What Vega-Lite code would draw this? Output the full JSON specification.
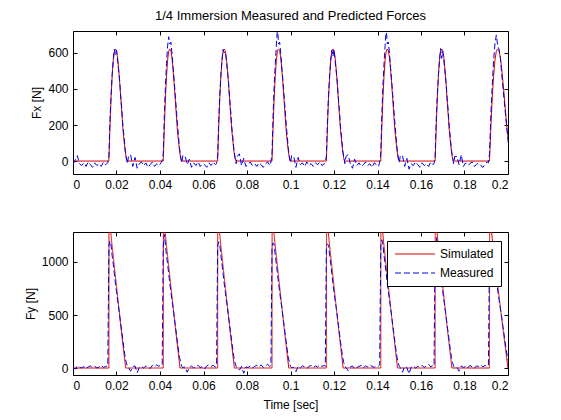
{
  "$schema": "https://vega.github.io/schema/vega-lite/v6.json",
  "background": "white",
  "padding": {"left": 23, "top": 9, "right": 5, "bottom": 2},
  "spacing": 40,
  "config": {
    "font": "Liberation Sans",
    "view": {"stroke": "black", "strokeWidth": 1},
    "axis": {
      "grid": false, "domain": false,
      "tickColor": "black", "tickSize": -4, "tickWidth": 1,
      "labelColor": "black", "labelFontSize": 12, "labelPadding": 9,
      "titleColor": "black", "titleFontSize": 12, "titleFontWeight": "normal"
    },
    "title": {"fontSize": 13, "fontWeight": "normal", "color": "black", "offset": 8}
  },
  "resolve": {"scale": {"color": "independent", "strokeDash": "independent"}},
  "datasets": {
    "simx": [
      {"t": 0, "fx": 0},
      {"t": 0.0165, "fx": 0}, {"t": 0.017, "fx": 190}, {"t": 0.0175, "fx": 350}, {"t": 0.018, "fx": 470}, {"t": 0.0185, "fx": 560}, {"t": 0.019, "fx": 610}, {"t": 0.0195, "fx": 622}, {"t": 0.02, "fx": 612}, {"t": 0.0205, "fx": 575}, {"t": 0.021, "fx": 510}, {"t": 0.0215, "fx": 430}, {"t": 0.022, "fx": 345}, {"t": 0.0225, "fx": 255}, {"t": 0.023, "fx": 170}, {"t": 0.0235, "fx": 110}, {"t": 0.024, "fx": 55}, {"t": 0.0245, "fx": 15}, {"t": 0.0249, "fx": 0},
      {"t": 0.0415, "fx": 0}, {"t": 0.042, "fx": 190}, {"t": 0.0425, "fx": 350}, {"t": 0.043, "fx": 470}, {"t": 0.0435, "fx": 560}, {"t": 0.044, "fx": 610}, {"t": 0.0445, "fx": 622}, {"t": 0.045, "fx": 612}, {"t": 0.0455, "fx": 575}, {"t": 0.046, "fx": 510}, {"t": 0.0465, "fx": 430}, {"t": 0.047, "fx": 345}, {"t": 0.0475, "fx": 255}, {"t": 0.048, "fx": 170}, {"t": 0.0485, "fx": 110}, {"t": 0.049, "fx": 55}, {"t": 0.0495, "fx": 15}, {"t": 0.0499, "fx": 0},
      {"t": 0.0665, "fx": 0}, {"t": 0.067, "fx": 190}, {"t": 0.0675, "fx": 350}, {"t": 0.068, "fx": 470}, {"t": 0.0685, "fx": 560}, {"t": 0.069, "fx": 610}, {"t": 0.0695, "fx": 622}, {"t": 0.07, "fx": 612}, {"t": 0.0705, "fx": 575}, {"t": 0.071, "fx": 510}, {"t": 0.0715, "fx": 430}, {"t": 0.072, "fx": 345}, {"t": 0.0725, "fx": 255}, {"t": 0.073, "fx": 170}, {"t": 0.0735, "fx": 110}, {"t": 0.074, "fx": 55}, {"t": 0.0745, "fx": 15}, {"t": 0.0749, "fx": 0},
      {"t": 0.0915, "fx": 0}, {"t": 0.092, "fx": 190}, {"t": 0.0925, "fx": 350}, {"t": 0.093, "fx": 470}, {"t": 0.0935, "fx": 560}, {"t": 0.094, "fx": 610}, {"t": 0.0945, "fx": 622}, {"t": 0.095, "fx": 612}, {"t": 0.0955, "fx": 575}, {"t": 0.096, "fx": 510}, {"t": 0.0965, "fx": 430}, {"t": 0.097, "fx": 345}, {"t": 0.0975, "fx": 255}, {"t": 0.098, "fx": 170}, {"t": 0.0985, "fx": 110}, {"t": 0.099, "fx": 55}, {"t": 0.0995, "fx": 15}, {"t": 0.0999, "fx": 0},
      {"t": 0.1165, "fx": 0}, {"t": 0.117, "fx": 190}, {"t": 0.1175, "fx": 350}, {"t": 0.118, "fx": 470}, {"t": 0.1185, "fx": 560}, {"t": 0.119, "fx": 610}, {"t": 0.1195, "fx": 622}, {"t": 0.12, "fx": 612}, {"t": 0.1205, "fx": 575}, {"t": 0.121, "fx": 510}, {"t": 0.1215, "fx": 430}, {"t": 0.122, "fx": 345}, {"t": 0.1225, "fx": 255}, {"t": 0.123, "fx": 170}, {"t": 0.1235, "fx": 110}, {"t": 0.124, "fx": 55}, {"t": 0.1245, "fx": 15}, {"t": 0.1249, "fx": 0},
      {"t": 0.1415, "fx": 0}, {"t": 0.142, "fx": 190}, {"t": 0.1425, "fx": 350}, {"t": 0.143, "fx": 470}, {"t": 0.1435, "fx": 560}, {"t": 0.144, "fx": 610}, {"t": 0.1445, "fx": 622}, {"t": 0.145, "fx": 612}, {"t": 0.1455, "fx": 575}, {"t": 0.146, "fx": 510}, {"t": 0.1465, "fx": 430}, {"t": 0.147, "fx": 345}, {"t": 0.1475, "fx": 255}, {"t": 0.148, "fx": 170}, {"t": 0.1485, "fx": 110}, {"t": 0.149, "fx": 55}, {"t": 0.1495, "fx": 15}, {"t": 0.1499, "fx": 0},
      {"t": 0.1665, "fx": 0}, {"t": 0.167, "fx": 190}, {"t": 0.1675, "fx": 350}, {"t": 0.168, "fx": 470}, {"t": 0.1685, "fx": 560}, {"t": 0.169, "fx": 610}, {"t": 0.1695, "fx": 622}, {"t": 0.17, "fx": 612}, {"t": 0.1705, "fx": 575}, {"t": 0.171, "fx": 510}, {"t": 0.1715, "fx": 430}, {"t": 0.172, "fx": 345}, {"t": 0.1725, "fx": 255}, {"t": 0.173, "fx": 170}, {"t": 0.1735, "fx": 110}, {"t": 0.174, "fx": 55}, {"t": 0.1745, "fx": 15}, {"t": 0.1749, "fx": 0},
      {"t": 0.1915, "fx": 0}, {"t": 0.19213, "fx": 190}, {"t": 0.19275, "fx": 350}, {"t": 0.19338, "fx": 470}, {"t": 0.194, "fx": 560}, {"t": 0.19463, "fx": 610}, {"t": 0.19525, "fx": 622}, {"t": 0.19588, "fx": 612}, {"t": 0.1965, "fx": 575}, {"t": 0.19713, "fx": 510}, {"t": 0.19775, "fx": 430}, {"t": 0.19838, "fx": 345}, {"t": 0.199, "fx": 255}, {"t": 0.19963, "fx": 170}, {"t": 0.20025, "fx": 110}
    ],
    "simy": [
      {"t": 0, "fy": 0},
      {"t": 0.0165, "fy": 0}, {"t": 0.01655, "fy": 1450}, {"t": 0.018, "fy": 1150}, {"t": 0.02, "fy": 770}, {"t": 0.022, "fy": 390}, {"t": 0.0242, "fy": 0},
      {"t": 0.0415, "fy": 0}, {"t": 0.04155, "fy": 1450}, {"t": 0.043, "fy": 1150}, {"t": 0.045, "fy": 770}, {"t": 0.047, "fy": 390}, {"t": 0.0492, "fy": 0},
      {"t": 0.0665, "fy": 0}, {"t": 0.06655, "fy": 1450}, {"t": 0.068, "fy": 1150}, {"t": 0.07, "fy": 770}, {"t": 0.072, "fy": 390}, {"t": 0.0742, "fy": 0},
      {"t": 0.0915, "fy": 0}, {"t": 0.09155, "fy": 1450}, {"t": 0.093, "fy": 1150}, {"t": 0.095, "fy": 770}, {"t": 0.097, "fy": 390}, {"t": 0.0992, "fy": 0},
      {"t": 0.1165, "fy": 0}, {"t": 0.11655, "fy": 1450}, {"t": 0.118, "fy": 1150}, {"t": 0.12, "fy": 770}, {"t": 0.122, "fy": 390}, {"t": 0.1242, "fy": 0},
      {"t": 0.1415, "fy": 0}, {"t": 0.14155, "fy": 1450}, {"t": 0.143, "fy": 1150}, {"t": 0.145, "fy": 770}, {"t": 0.147, "fy": 390}, {"t": 0.1492, "fy": 0},
      {"t": 0.1665, "fy": 0}, {"t": 0.16655, "fy": 1450}, {"t": 0.168, "fy": 1150}, {"t": 0.17, "fy": 770}, {"t": 0.172, "fy": 390}, {"t": 0.1742, "fy": 0},
      {"t": 0.1915, "fy": 0}, {"t": 0.19156, "fy": 1450}, {"t": 0.19315, "fy": 1150}, {"t": 0.19535, "fy": 770}, {"t": 0.19755, "fy": 390}, {"t": 0.19997, "fy": 0},
      {"t": 0.2, "fy": 0}
    ],
    "meas": [
      {"t": 0.000, "fx": -20, "fy": 5}, {"t": 0.001, "fx": 5, "fy": -10}, {"t": 0.002, "fx": 30, "fy": 20}, {"t": 0.003, "fx": -15, "fy": 10}, {"t": 0.004, "fx": -25, "fy": 0}, {"t": 0.005, "fx": -10, "fy": 15}, {"t": 0.006, "fx": -30, "fy": -5}, {"t": 0.007, "fx": -5, "fy": 10}, {"t": 0.008, "fx": -20, "fy": 20}, {"t": 0.009, "fx": -35, "fy": 5}, {"t": 0.010, "fx": -10, "fy": 15}, {"t": 0.011, "fx": -25, "fy": 0}, {"t": 0.012, "fx": -15, "fy": 10}, {"t": 0.013, "fx": -30, "fy": 25}, {"t": 0.014, "fx": -5, "fy": 5}, {"t": 0.015, "fx": -20, "fy": 15}, {"t": 0.016, "fx": -10, "fy": 20},
      {"t": 0.0165, "fx": 30, "fy": 1150}, {"t": 0.017, "fx": 230, "fy": 1200}, {"t": 0.0175, "fx": 370, "fy": 1160}, {"t": 0.018, "fx": 480, "fy": 1060}, {"t": 0.0185, "fx": 560, "fy": 980}, {"t": 0.019, "fx": 620, "fy": 890}, {"t": 0.0195, "fx": 590, "fy": 800}, {"t": 0.02, "fx": 615, "fy": 720}, {"t": 0.0205, "fx": 560, "fy": 640}, {"t": 0.021, "fx": 500, "fy": 570}, {"t": 0.0215, "fx": 440, "fy": 490}, {"t": 0.022, "fx": 350, "fy": 410}, {"t": 0.0225, "fx": 280, "fy": 330}, {"t": 0.023, "fx": 190, "fy": 250}, {"t": 0.0235, "fx": 130, "fy": 170}, {"t": 0.024, "fx": 60, "fy": 100}, {"t": 0.0245, "fx": 20, "fy": 50}, {"t": 0.025, "fx": -15, "fy": 15}, {"t": 0.0255, "fx": 25, "fy": 5},
      {"t": 0.0265, "fx": 35, "fy": -30}, {"t": 0.0275, "fx": -30, "fy": 10}, {"t": 0.0285, "fx": 20, "fy": 20}, {"t": 0.0295, "fx": -40, "fy": -45}, {"t": 0.0305, "fx": -15, "fy": 5}, {"t": 0.0315, "fx": -5, "fy": 15}, {"t": 0.0325, "fx": -25, "fy": 0}, {"t": 0.0335, "fx": -10, "fy": 20}, {"t": 0.0345, "fx": -35, "fy": 10}, {"t": 0.0355, "fx": -20, "fy": -5}, {"t": 0.0365, "fx": -5, "fy": 25}, {"t": 0.0375, "fx": -30, "fy": 10}, {"t": 0.0385, "fx": -15, "fy": 30}, {"t": 0.0395, "fx": -25, "fy": 15}, {"t": 0.0405, "fx": -10, "fy": 35}, {"t": 0.041, "fx": 5, "fy": 30},
      {"t": 0.0415, "fx": 40, "fy": 1150}, {"t": 0.042, "fx": 260, "fy": 1260}, {"t": 0.0425, "fx": 420, "fy": 1160}, {"t": 0.043, "fx": 540, "fy": 1060}, {"t": 0.0435, "fx": 640, "fy": 980}, {"t": 0.044, "fx": 690, "fy": 890}, {"t": 0.0445, "fx": 650, "fy": 800}, {"t": 0.045, "fx": 660, "fy": 720}, {"t": 0.0455, "fx": 600, "fy": 640}, {"t": 0.046, "fx": 520, "fy": 570}, {"t": 0.0465, "fx": 450, "fy": 490}, {"t": 0.047, "fx": 370, "fy": 410}, {"t": 0.0475, "fx": 290, "fy": 330}, {"t": 0.048, "fx": 210, "fy": 250}, {"t": 0.0485, "fx": 140, "fy": 170}, {"t": 0.049, "fx": 70, "fy": 100}, {"t": 0.0495, "fx": 25, "fy": 50}, {"t": 0.05, "fx": -10, "fy": 15}, {"t": 0.0505, "fx": 30, "fy": 5},
      {"t": 0.0515, "fx": 30, "fy": 10}, {"t": 0.0525, "fx": -20, "fy": -40}, {"t": 0.0535, "fx": 10, "fy": 5}, {"t": 0.0545, "fx": -35, "fy": 20}, {"t": 0.0555, "fx": -10, "fy": 0}, {"t": 0.0565, "fx": -25, "fy": 15}, {"t": 0.0575, "fx": -5, "fy": 25}, {"t": 0.0585, "fx": -30, "fy": 5}, {"t": 0.0595, "fx": -15, "fy": 10}, {"t": 0.0605, "fx": -20, "fy": -10}, {"t": 0.0615, "fx": -35, "fy": 20}, {"t": 0.0625, "fx": -10, "fy": 30}, {"t": 0.0635, "fx": -25, "fy": 15}, {"t": 0.0645, "fx": -5, "fy": 25}, {"t": 0.0655, "fx": -20, "fy": 10}, {"t": 0.066, "fx": -15, "fy": 20},
      {"t": 0.0665, "fx": 30, "fy": 1150}, {"t": 0.067, "fx": 230, "fy": 1190}, {"t": 0.0675, "fx": 370, "fy": 1160}, {"t": 0.068, "fx": 480, "fy": 1060}, {"t": 0.0685, "fx": 560, "fy": 980}, {"t": 0.069, "fx": 620, "fy": 890}, {"t": 0.0695, "fx": 600, "fy": 800}, {"t": 0.07, "fx": 605, "fy": 720}, {"t": 0.0705, "fx": 560, "fy": 640}, {"t": 0.071, "fx": 500, "fy": 570}, {"t": 0.0715, "fx": 440, "fy": 490}, {"t": 0.072, "fx": 350, "fy": 410}, {"t": 0.0725, "fx": 280, "fy": 330}, {"t": 0.073, "fx": 190, "fy": 250}, {"t": 0.0735, "fx": 130, "fy": 170}, {"t": 0.074, "fx": 60, "fy": 100}, {"t": 0.0745, "fx": 20, "fy": 50}, {"t": 0.075, "fx": -15, "fy": 15}, {"t": 0.0755, "fx": 25, "fy": 5},
      {"t": 0.0765, "fx": 40, "fy": -20}, {"t": 0.0775, "fx": -25, "fy": 15}, {"t": 0.0785, "fx": 15, "fy": -50}, {"t": 0.0795, "fx": -30, "fy": 10}, {"t": 0.0805, "fx": -20, "fy": 5}, {"t": 0.0815, "fx": -5, "fy": 20}, {"t": 0.0825, "fx": -25, "fy": 0}, {"t": 0.0835, "fx": -15, "fy": 15}, {"t": 0.0845, "fx": -30, "fy": 25}, {"t": 0.0855, "fx": -10, "fy": 10}, {"t": 0.0865, "fx": -20, "fy": 30}, {"t": 0.0875, "fx": -35, "fy": 5}, {"t": 0.0885, "fx": -15, "fy": 20}, {"t": 0.0895, "fx": -5, "fy": 35}, {"t": 0.0905, "fx": -25, "fy": 15}, {"t": 0.091, "fx": -5, "fy": 25},
      {"t": 0.0915, "fx": 40, "fy": 1150}, {"t": 0.092, "fx": 260, "fy": 1180}, {"t": 0.0925, "fx": 420, "fy": 1160}, {"t": 0.093, "fx": 540, "fy": 1060}, {"t": 0.0935, "fx": 640, "fy": 980}, {"t": 0.094, "fx": 745, "fy": 890}, {"t": 0.0945, "fx": 650, "fy": 800}, {"t": 0.095, "fx": 660, "fy": 720}, {"t": 0.0955, "fx": 600, "fy": 640}, {"t": 0.096, "fx": 520, "fy": 570}, {"t": 0.0965, "fx": 450, "fy": 490}, {"t": 0.097, "fx": 370, "fy": 410}, {"t": 0.0975, "fx": 290, "fy": 330}, {"t": 0.098, "fx": 210, "fy": 250}, {"t": 0.0985, "fx": 140, "fy": 170}, {"t": 0.099, "fx": 70, "fy": 100}, {"t": 0.0995, "fx": 25, "fy": 50}, {"t": 0.1, "fx": -10, "fy": 15}, {"t": 0.1005, "fx": 30, "fy": 5},
      {"t": 0.1015, "fx": 25, "fy": 5}, {"t": 0.1025, "fx": -35, "fy": -35}, {"t": 0.1035, "fx": 20, "fy": 15}, {"t": 0.1045, "fx": -20, "fy": 0}, {"t": 0.1055, "fx": -10, "fy": 20}, {"t": 0.1065, "fx": -30, "fy": 10}, {"t": 0.1075, "fx": -5, "fy": -5}, {"t": 0.1085, "fx": -25, "fy": 15}, {"t": 0.1095, "fx": -15, "fy": 25}, {"t": 0.1105, "fx": -30, "fy": 5}, {"t": 0.1115, "fx": -10, "fy": 20}, {"t": 0.1125, "fx": -20, "fy": 10}, {"t": 0.1135, "fx": -5, "fy": 30}, {"t": 0.1145, "fx": -25, "fy": 15}, {"t": 0.1155, "fx": -15, "fy": 25}, {"t": 0.116, "fx": -10, "fy": 15},
      {"t": 0.1165, "fx": 30, "fy": 1150}, {"t": 0.117, "fx": 230, "fy": 1170}, {"t": 0.1175, "fx": 370, "fy": 1160}, {"t": 0.118, "fx": 480, "fy": 1060}, {"t": 0.1185, "fx": 560, "fy": 980}, {"t": 0.119, "fx": 615, "fy": 890}, {"t": 0.1195, "fx": 580, "fy": 800}, {"t": 0.12, "fx": 620, "fy": 720}, {"t": 0.1205, "fx": 560, "fy": 640}, {"t": 0.121, "fx": 500, "fy": 570}, {"t": 0.1215, "fx": 440, "fy": 490}, {"t": 0.122, "fx": 350, "fy": 410}, {"t": 0.1225, "fx": 280, "fy": 330}, {"t": 0.123, "fx": 190, "fy": 250}, {"t": 0.1235, "fx": 130, "fy": 170}, {"t": 0.124, "fx": 60, "fy": 100}, {"t": 0.1245, "fx": 20, "fy": 50}, {"t": 0.125, "fx": -15, "fy": 15}, {"t": 0.1255, "fx": 25, "fy": 5},
      {"t": 0.1265, "fx": 35, "fy": -25}, {"t": 0.1275, "fx": -15, "fy": 10}, {"t": 0.1285, "fx": -40, "fy": 20}, {"t": 0.1295, "fx": 10, "fy": -10}, {"t": 0.1305, "fx": -25, "fy": 5}, {"t": 0.1315, "fx": -10, "fy": 15}, {"t": 0.1325, "fx": -30, "fy": 25}, {"t": 0.1335, "fx": -20, "fy": 0}, {"t": 0.1345, "fx": -5, "fy": 20}, {"t": 0.1355, "fx": -25, "fy": 10}, {"t": 0.1365, "fx": -15, "fy": 30}, {"t": 0.1375, "fx": -35, "fy": 15}, {"t": 0.1385, "fx": -10, "fy": 5}, {"t": 0.1395, "fx": -20, "fy": 25}, {"t": 0.1405, "fx": -30, "fy": 20}, {"t": 0.141, "fx": -5, "fy": 30},
      {"t": 0.1415, "fx": 40, "fy": 1150}, {"t": 0.142, "fx": 260, "fy": 1210}, {"t": 0.1425, "fx": 420, "fy": 1160}, {"t": 0.143, "fx": 540, "fy": 1060}, {"t": 0.1435, "fx": 640, "fy": 980}, {"t": 0.144, "fx": 740, "fy": 890}, {"t": 0.1445, "fx": 650, "fy": 800}, {"t": 0.145, "fx": 660, "fy": 720}, {"t": 0.1455, "fx": 600, "fy": 640}, {"t": 0.146, "fx": 520, "fy": 570}, {"t": 0.1465, "fx": 450, "fy": 490}, {"t": 0.147, "fx": 370, "fy": 410}, {"t": 0.1475, "fx": 290, "fy": 330}, {"t": 0.148, "fx": 210, "fy": 250}, {"t": 0.1485, "fx": 140, "fy": 170}, {"t": 0.149, "fx": 70, "fy": 100}, {"t": 0.1495, "fx": 25, "fy": 50}, {"t": 0.15, "fx": -10, "fy": 15}, {"t": 0.1505, "fx": 30, "fy": 5},
      {"t": 0.1515, "fx": 30, "fy": -40}, {"t": 0.1525, "fx": -30, "fy": 15}, {"t": 0.1535, "fx": 15, "fy": 5}, {"t": 0.1545, "fx": -45, "fy": -55}, {"t": 0.1555, "fx": -15, "fy": 10}, {"t": 0.1565, "fx": -25, "fy": 20}, {"t": 0.1575, "fx": -5, "fy": 0}, {"t": 0.1585, "fx": -20, "fy": 15}, {"t": 0.1595, "fx": -35, "fy": 10}, {"t": 0.1605, "fx": -10, "fy": 25}, {"t": 0.1615, "fx": -25, "fy": 5}, {"t": 0.1625, "fx": -15, "fy": 20}, {"t": 0.1635, "fx": -30, "fy": 35}, {"t": 0.1645, "fx": -5, "fy": 10}, {"t": 0.1655, "fx": -20, "fy": 25}, {"t": 0.166, "fx": -15, "fy": 20},
      {"t": 0.1665, "fx": 30, "fy": 1150}, {"t": 0.167, "fx": 230, "fy": 1230}, {"t": 0.1675, "fx": 370, "fy": 1160}, {"t": 0.168, "fx": 480, "fy": 1060}, {"t": 0.1685, "fx": 560, "fy": 980}, {"t": 0.169, "fx": 625, "fy": 890}, {"t": 0.1695, "fx": 570, "fy": 800}, {"t": 0.17, "fx": 610, "fy": 720}, {"t": 0.1705, "fx": 560, "fy": 640}, {"t": 0.171, "fx": 500, "fy": 570}, {"t": 0.1715, "fx": 440, "fy": 490}, {"t": 0.172, "fx": 350, "fy": 410}, {"t": 0.1725, "fx": 280, "fy": 330}, {"t": 0.173, "fx": 190, "fy": 250}, {"t": 0.1735, "fx": 130, "fy": 170}, {"t": 0.174, "fx": 60, "fy": 100}, {"t": 0.1745, "fx": 20, "fy": 50}, {"t": 0.175, "fx": -15, "fy": 15}, {"t": 0.1755, "fx": 25, "fy": 5},
      {"t": 0.1765, "fx": 25, "fy": 10}, {"t": 0.1775, "fx": -20, "fy": -30}, {"t": 0.1785, "fx": 35, "fy": 20}, {"t": 0.1795, "fx": -30, "fy": 5}, {"t": 0.1805, "fx": -10, "fy": 15}, {"t": 0.1815, "fx": -25, "fy": 0}, {"t": 0.1825, "fx": -15, "fy": 25}, {"t": 0.1835, "fx": -5, "fy": 10}, {"t": 0.1845, "fx": -30, "fy": -5}, {"t": 0.1855, "fx": -20, "fy": 20}, {"t": 0.1865, "fx": -10, "fy": 15}, {"t": 0.1875, "fx": -25, "fy": 30}, {"t": 0.1885, "fx": -35, "fy": 10}, {"t": 0.1895, "fx": -15, "fy": 25}, {"t": 0.1905, "fx": -5, "fy": 15}, {"t": 0.191, "fx": -10, "fy": 25},
      {"t": 0.1915, "fx": 40, "fy": 1150}, {"t": 0.19213, "fx": 260, "fy": 1195}, {"t": 0.19275, "fx": 420, "fy": 1130}, {"t": 0.19338, "fx": 560, "fy": 1030}, {"t": 0.194, "fx": 650, "fy": 940}, {"t": 0.19463, "fx": 700, "fy": 830}, {"t": 0.19525, "fx": 640, "fy": 735}, {"t": 0.19588, "fx": 620, "fy": 645}, {"t": 0.1965, "fx": 570, "fy": 560}, {"t": 0.19713, "fx": 480, "fy": 475}, {"t": 0.19775, "fx": 400, "fy": 380}, {"t": 0.19838, "fx": 320, "fy": 290}, {"t": 0.199, "fx": 240, "fy": 200}, {"t": 0.19963, "fx": 160, "fy": 115}, {"t": 0.20025, "fx": 90, "fy": 55}
    ]
  },
  "vconcat": [
    {
      "title": {"text": "1/4 Immersion Measured and Predicted Forces"},
      "width": 435,
      "height": 143,
      "layer": [
        {
          "data": {"name": "simx"},
          "mark": {"type": "line", "color": "#dd0000", "strokeWidth": 1, "clip": true},
          "encoding": {
            "x": {"field": "t", "type": "quantitative", "scale": {"domain": [0, 0.2], "nice": false},
                  "axis": {"orient": "bottom", "values": [0, 0.02, 0.04, 0.06, 0.08, 0.1, 0.12, 0.14, 0.16, 0.18, 0.2], "format": "~g", "title": null}},
            "y": {"field": "fx", "type": "quantitative", "scale": {"domain": [-72, 722], "nice": false, "zero": false},
                  "axis": {"orient": "left", "values": [0, 200, 400, 600], "format": "d", "title": "Fx [N]"}}
          }
        },
        {
          "data": {"name": "meas"},
          "mark": {"type": "line", "color": "#0000ee", "strokeWidth": 1, "strokeDash": [6, 3], "clip": true},
          "encoding": {
            "x": {"field": "t", "type": "quantitative",
                  "axis": {"orient": "top", "values": [0, 0.02, 0.04, 0.06, 0.08, 0.1, 0.12, 0.14, 0.16, 0.18, 0.2], "labels": false, "title": null}},
            "y": {"field": "fx", "type": "quantitative",
                  "axis": {"orient": "right", "values": [0, 200, 400, 600], "labels": false, "title": null}}
          }
        }
      ]
    },
    {
      "width": 435,
      "height": 143,
      "layer": [
        {
          "data": {"name": "simy"},
          "mark": {"type": "line", "strokeWidth": 1, "clip": true},
          "encoding": {
            "x": {"field": "t", "type": "quantitative", "scale": {"domain": [0, 0.2], "nice": false},
                  "axis": {"orient": "bottom", "values": [0, 0.02, 0.04, 0.06, 0.08, 0.1, 0.12, 0.14, 0.16, 0.18, 0.2], "format": "~g", "title": "Time [sec]", "titlePadding": 8}},
            "y": {"field": "fy", "type": "quantitative", "scale": {"domain": [-66, 1283], "nice": false, "zero": false},
                  "axis": {"orient": "left", "values": [0, 500, 1000], "format": "d", "title": "Fy [N]"}},
            "color": {"datum": "Simulated", "type": "nominal",
                      "scale": {"domain": ["Simulated", "Measured"], "range": ["#dd0000", "#0000ee"]},
                      "legend": {"title": null, "orient": "none", "legendX": 314, "legendY": 9,
                                 "fillColor": "white", "strokeColor": "black", "padding": 7,
                                 "symbolType": "M-1,0H7", "symbolSize": 100, "symbolStrokeWidth": 1,
                                 "labelFontSize": 12, "labelColor": "black", "labelOffset": 34, "rowPadding": 7}},
            "strokeDash": {"datum": "Simulated", "type": "nominal",
                           "scale": {"domain": ["Simulated", "Measured"], "range": [[1, 0], [6, 3]]},
                           "legend": {"title": null, "orient": "none", "legendX": 314, "legendY": 9,
                                      "fillColor": "white", "strokeColor": "black", "padding": 7,
                                      "symbolType": "M-1,0H7", "symbolSize": 100, "symbolStrokeWidth": 1,
                                      "labelFontSize": 12, "labelColor": "black", "labelOffset": 34, "rowPadding": 7}}
          }
        },
        {
          "data": {"name": "meas"},
          "mark": {"type": "line", "strokeWidth": 1, "clip": true},
          "encoding": {
            "x": {"field": "t", "type": "quantitative",
                  "axis": {"orient": "top", "values": [0, 0.02, 0.04, 0.06, 0.08, 0.1, 0.12, 0.14, 0.16, 0.18, 0.2], "labels": false, "title": null}},
            "y": {"field": "fy", "type": "quantitative",
                  "axis": {"orient": "right", "values": [0, 500, 1000], "labels": false, "title": null}},
            "color": {"datum": "Measured", "type": "nominal"},
            "strokeDash": {"datum": "Measured", "type": "nominal"}
          }
        }
      ]
    }
  ]
}
